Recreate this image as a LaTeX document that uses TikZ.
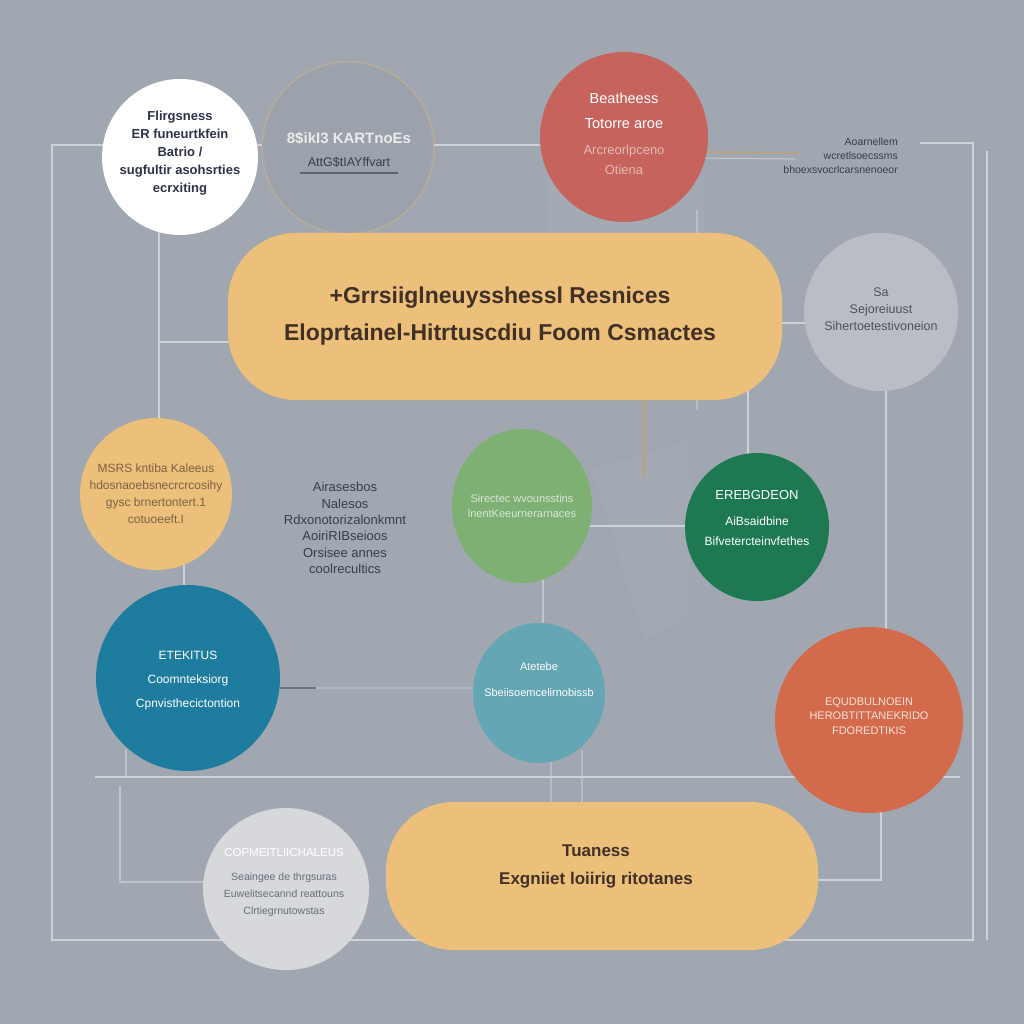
\documentclass[tikz,border=0pt]{standalone}
\usepackage{fontspec}
\setmainfont{Liberation Sans}
\usetikzlibrary{shapes.geometric}
\definecolor{bg}{RGB}{161,167,176}
\definecolor{lineC}{RGB}{206,210,216}
\definecolor{tanC}{RGB}{196,160,110}
\definecolor{yel}{RGB}{236,191,122}
\definecolor{redC}{RGB}{197,99,92}
\definecolor{grayC}{RGB}{186,190,196}
\definecolor{ghost}{RGB}{156,162,171}
\definecolor{lgreen}{RGB}{126,176,116}
\definecolor{dgreen}{RGB}{30,121,82}
\definecolor{blueC}{RGB}{30,124,158}
\definecolor{tealC}{RGB}{101,166,180}
\definecolor{orC}{RGB}{211,106,76}
\definecolor{lgrayC}{RGB}{214,216,220}
\definecolor{navyT}{RGB}{45,50,75}
\definecolor{darkT}{RGB}{55,60,75}
\definecolor{brownT}{RGB}{64,48,38}
\tikzset{
  ln/.style={draw=lineC, line width=1.2pt},
  bub/.style={ellipse, inner sep=0pt, draw=none},
  pill/.style={rectangle, rounded corners=68pt, inner sep=0pt, draw=none, fill=yel},
  tx/.style={align=center, inner sep=0pt},
}
\begin{document}
\begin{tikzpicture}[x=1pt,y=-1pt]
\fill[bg] (0,0) rectangle (1024,1024);
\useasboundingbox (0,0) rectangle (1024,1024);
% faint background planes
\fill[white, opacity=0.04] (548,175) rectangle (705,235);
\fill[white, opacity=0.03] (592,470) -- (690,440) -- (690,615) -- (645,640) -- cycle;

% frame coordinates
\coordinate (f1) at (52,145);
\coordinate (f2) at (52,940);
\coordinate (f3) at (973,940);
\coordinate (f4) at (973,143);
\coordinate (f5) at (920,143);
\coordinate (f6) at (540,145);
\coordinate (r1) at (987,151);
\coordinate (r2) at (987,940);
\draw[ln] (f6) -- (f1) -- (f2) -- (f3) -- (f4) -- (f5);
\draw[ln] (r1) -- (r2);

% inner connector coordinates
\coordinate (a1) at (159,200);
\coordinate (a2) at (159,450);
\coordinate (a3) at (159,342);
\coordinate (a4) at (250,342);
\coordinate (b1) at (184,540);
\coordinate (b2) at (184,600);
\coordinate (c1) at (760,323);
\coordinate (c2) at (830,323);
\coordinate (d1) at (886,370);
\coordinate (d2) at (886,650);
\coordinate (e1) at (700,152);
\coordinate (e2) at (800,153);
\coordinate (e3) at (700,158);
\coordinate (e4) at (795,159);
\coordinate (g1) at (644,380);
\coordinate (g2) at (644,478);
\coordinate (h1) at (748,380);
\coordinate (h2) at (748,470);
\coordinate (i1) at (580,526);
\coordinate (i2) at (700,526);
\coordinate (j1) at (543,570);
\coordinate (j2) at (543,640);
\coordinate (k1) at (280,688);
\coordinate (k2) at (316,688);
\coordinate (k3) at (490,688);
\coordinate (m1) at (95,777);
\coordinate (m2) at (960,777);
\coordinate (n1) at (126,749);
\coordinate (n2) at (126,777);
\coordinate (o1) at (120,786);
\coordinate (o2) at (120,882);
\coordinate (o3) at (230,882);
\coordinate (p1) at (551,750);
\coordinate (p2) at (551,820);
\coordinate (q1) at (582,750);
\coordinate (q2) at (582,820);
\coordinate (s1) at (800,880);
\coordinate (s2) at (881,880);
\coordinate (s3) at (881,800);
\coordinate (t1) at (697,210);
\coordinate (t2) at (697,410);

\draw[ln] (a1) -- (a2);
\draw[ln] (a3) -- (a4);
\draw[ln] (b1) -- (b2);
\draw[ln] (c1) -- (c2);
\draw[ln] (d1) -- (d2);
\draw[draw=tanC, line width=1.3pt] (e1) -- (e2);
\draw[ln, opacity=0.7] (e3) -- (e4);
\draw[draw=tanC, line width=1.1pt] (g1) -- (g2);
\draw[ln] (h1) -- (h2);
\draw[ln] (i1) -- (i2);
\draw[ln, opacity=0.7] (j1) -- (j2);
\draw[draw=darkT!70, line width=1.3pt] (k1) -- (k2);
\draw[ln, opacity=0.35] (k2) -- (k3);
\draw[ln] (m1) -- (m2);
\draw[ln, opacity=0.6] (n1) -- (n2);
\draw[ln, opacity=0.7] (o1) -- (o2) -- (o3);
\draw[ln, opacity=0.5] (p1) -- (p2);
\draw[ln, opacity=0.5] (q1) -- (q2);
\draw[ln] (s1) -- (s2) -- (s3);
\draw[ln, opacity=0.5] (t1) -- (t2);

% shapes
\node[bub, fill=white, minimum width=156pt, minimum height=156pt] (wc) at (180,157) {};
\node[bub, fill=ghost, draw=tanC!80, draw opacity=0.5, line width=1.5pt, minimum width=172pt, minimum height=172pt] (gc) at (348,148) {};
\node[bub, fill=redC, minimum width=168pt, minimum height=170pt] (rc) at (624,137) {};
\node[pill, minimum width=554pt, minimum height=167pt] (yt) at (505,316.5) {};
\node[bub, fill=grayC, minimum width=154pt, minimum height=158pt] (gr) at (881,312) {};
\node[bub, fill=yel, minimum width=152pt, minimum height=152pt] (oc) at (156,494) {};
\node[bub, fill=lgreen, minimum width=140pt, minimum height=154pt] (lg) at (522,506) {};
\node[bub, fill=dgreen, minimum width=144pt, minimum height=148pt] (dg) at (757,527) {};
\node[bub, fill=blueC, minimum width=184pt, minimum height=186pt] (bc) at (188,678) {};
\node[bub, fill=tealC, minimum width=132pt, minimum height=140pt] (tc) at (539,693) {};
\node[bub, fill=orC, minimum width=188pt, minimum height=186pt] (oc2) at (869,720) {};
\node[pill, minimum width=432pt, minimum height=148pt] (yb) at (602,876) {};
\node[bub, fill=lgrayC, minimum width=166pt, minimum height=162pt] (lgc) at (286,889) {};

% texts
\node[tx, text=navyT, font=\bfseries\fontsize{13}{18}\selectfont] (wcT) at (180,153)
  {Flirgsness\\ER funeurtkfein\\Batrio /\\sugfultir asohsrties\\ecrxiting};
\node[tx, text=white!92!black, font=\bfseries\fontsize{15}{18}\selectfont] (gcT1) at (349,138) {8\$ikI3 KARTnoEs};
\node[tx, text=darkT, font=\fontsize{12.5}{15}\selectfont] (gcT2) at (349,162) {AttG\$tIAYffvart};
\coordinate (u1) at (300,173);
\coordinate (u2) at (398,173);
\draw[darkT!80, line width=1.2pt] (u1) -- (u2);
\node[tx, text=white, font=\fontsize{14.5}{25}\selectfont] (rcT1) at (624,111) {Beatheess\\Totorre aroe};
\node[tx, text=redC!45!white, font=\fontsize{13}{20}\selectfont] (rcT2) at (624,160) {Arcreorlpceno\\Otiena};
\node[tx, text=darkT, align=right, anchor=east, font=\fontsize{10.5}{14}\selectfont] (trT) at (898,156)
  {Aoarnellem\\wcretlsoecssms\\bhoexsvocrlcarsnenoeor};
\node[tx, text=brownT, font=\bfseries\fontsize{23}{37}\selectfont] (ytT) at (500,316)
  {+Grrsiiglneuysshessl Resnices\\Eloprtainel-Hitrtuscdiu Foom Csmactes};
\node[tx, text=darkT!90, font=\fontsize{12.5}{17}\selectfont] (grT) at (881,309)
  {Sa\\Sejoreiuust\\Sihertoetestivoneion};
\node[tx, text=brownT!65!yel, font=\fontsize{12}{17}\selectfont] (ocT) at (156,494)
  {MSRS kntiba Kaleeus\\hdosnaoebsnecrcrcosihy\\gysc brnertontert.1\\cotuoeeft.I};
\node[tx, text=darkT, font=\fontsize{13}{16.4}\selectfont] (ftT) at (345,528)
  {Airasesbos\\Nalesos\\Rdxonotorizalonkmnt\\AoiriRIBseioos\\Orsisee annes\\coolrecultics};
\node[tx, text=lgreen!30!white, font=\fontsize{11}{15}\selectfont] (lgT) at (522,506)
  {Sirectec wvounsstins\\lnentKeeurnerarnaces};
\node[tx, text=white, font=\fontsize{13}{20}\selectfont] (dgT1) at (757,495) {EREBGDEON};
\node[tx, text=white, font=\fontsize{12}{20}\selectfont] (dgT2) at (757,531) {AiBsaidbine\\Bifvetercteinvfethes};
\node[tx, text=white, font=\fontsize{12}{24}\selectfont] (bcT) at (188,681)
  {ETEKITUS\\Coomnteksiorg\\Cpnvisthecictontion};
\node[tx, text=white, font=\fontsize{11}{26}\selectfont] (tcT) at (539,680)
  {Atetebe\\Sbeiisoemcelirnobissb};
\node[tx, text=orC!20!white, font=\fontsize{11}{14.5}\selectfont] (ocT2) at (869,716)
  {EQUDBULNOEIN\\HEROBTITTANEKRIDO\\FDOREDTIKIS};
\node[tx, text=brownT, font=\bfseries\fontsize{17}{28}\selectfont] (ybT) at (596,866)
  {Tuaness\\Exgniiet loiirig ritotanes};
\node[tx, text=white, font=\fontsize{11.5}{15}\selectfont] (lgcT1) at (284,853) {COPMEITLIICHALEUS};
\node[tx, text=darkT!75, font=\fontsize{10.5}{17}\selectfont] (lgcT2) at (284,895)
  {Seaingee de thrgsuras\\Euwelitsecannd reattouns\\Clrtiegrnutowstas};
\end{tikzpicture}
\end{document}
